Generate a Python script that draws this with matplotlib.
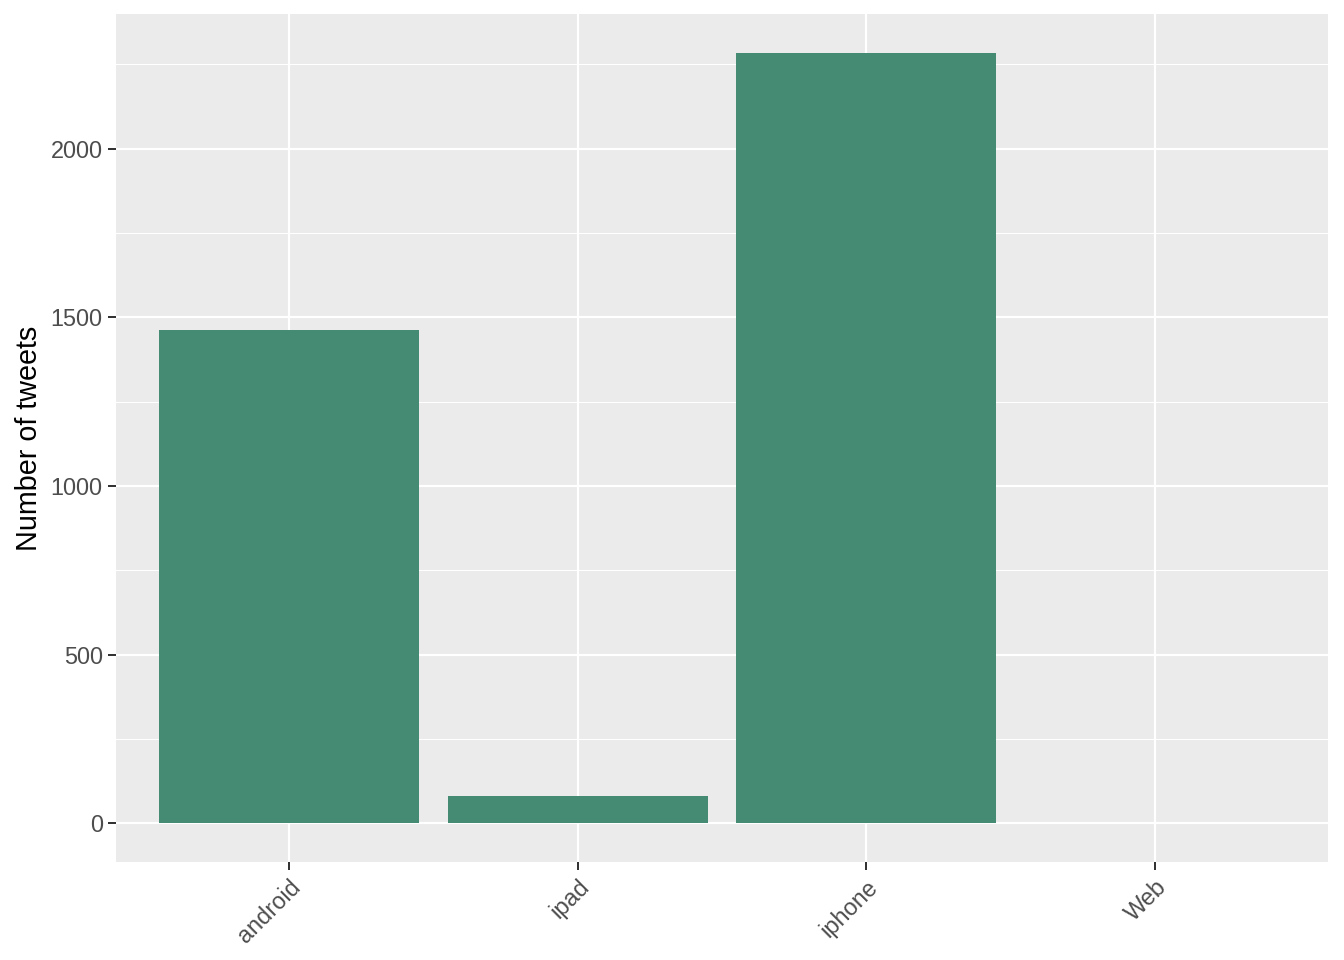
import matplotlib
matplotlib.use("Agg")
import matplotlib.pyplot as plt
import numpy as np

# tweets per source
sources = ["android", "ipad", "iphone", "Web"]
counts = [1464, 80, 2285, 1]

plt.rcParams['font.family'] = ['Liberation Sans', 'DejaVu Sans']

fig = plt.figure(figsize=(7, 5), dpi=192)
ax = fig.add_axes([116/1344, 1 - 862/960, (1328-116)/1344, (862-14)/960])

bg = "#EBEBEB"
ax.set_facecolor(bg)
for s in ax.spines.values():
    s.set_visible(False)

x = np.arange(len(sources))
ax.bar(x, counts, width=0.9, color="#458B73", zorder=3)

ymax = max(counts)
pad = ymax * 0.05
ax.set_ylim(-pad, ymax + pad)
ax.set_xlim(-0.6, len(sources) - 0.4)

ax.set_yticks([0, 500, 1000, 1500, 2000])
ax.set_yticks([250, 750, 1250, 1750, 2250], minor=True)
ax.set_xticks(x)
ax.set_xticklabels(sources, rotation=45, ha="right", va="top", rotation_mode="anchor")

ax.grid(which="major", color="white", linewidth=0.8, zorder=0)
ax.grid(which="minor", axis="y", color="white", linewidth=0.4, zorder=0)
ax.set_axisbelow(True)

ax.tick_params(which="major", length=3, width=0.75, color="#333333",
               labelcolor="#4D4D4D", labelsize=8.8, pad=2)
ax.tick_params(which="minor", length=0)

ax.set_ylabel("Number of tweets", fontsize=10.8, color="black", labelpad=3)

fig.savefig("out.png", dpi=192)
